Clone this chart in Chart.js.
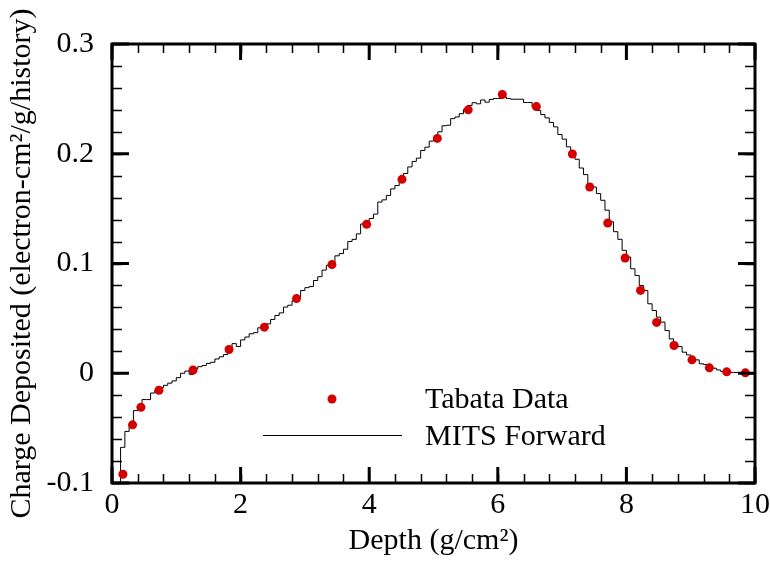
<!DOCTYPE html>
<html>
<head>
<meta charset="utf-8">
<script src="https://cdn.jsdelivr.net/npm/chart.js@4.4.1/dist/chart.umd.min.js"></script>
<style>
  html,body{margin:0;padding:0;background:#fff;}
  #wrap{width:770px;height:561px;position:relative;}
</style>
</head>
<body>
<div id="wrap"><canvas id="myChart" width="770" height="561"></canvas></div>
<script>
// Tabata measured points
const tabataDepth = [0.17,0.32,0.45,0.73,1.26,1.82,2.37,2.87,3.42,3.96,4.51,5.06,5.54,6.07,6.60,7.16,7.43,7.71,7.98,8.22,8.47,8.74,9.02,9.29,9.56,9.85];
const tabataCharge = [-0.092,-0.047,-0.031,-0.0155,0.003,0.0216,0.042,0.068,0.099,0.1357,0.1767,0.214,0.240,0.254,0.243,0.1998,0.1697,0.1369,0.105,0.0755,0.0463,0.0253,0.0122,0.0049,0.0013,0.0004];

// MITS Forward histogram, bins of 1/15 g/cm2 starting at depth 0
const mitsBinWidth = 1/15;
const mitsCharge = [
  -0.14,-0.12,-0.0675,-0.053,-0.046,-0.034,-0.031,-0.024,-0.024,-0.018,
  -0.0155,-0.013,-0.011,-0.009,-0.007,-0.004,0.000,0.002,-0.001,0.004,
  0.006,0.007,0.009,0.010,0.013,0.015,0.017,0.021,0.027,0.0244,
  0.0304,0.033,0.036,0.037,0.0414,0.044,0.045,0.049,0.0526,0.055,
  0.0603,0.062,0.066,0.069,0.0754,0.078,0.079,0.0845,0.088,0.094,
  0.0983,0.100,0.107,0.109,0.113,0.120,0.122,0.127,0.136,0.137,
  0.141,0.145,0.156,0.158,0.162,0.168,0.171,0.176,0.182,0.188,
  0.193,0.196,0.203,0.206,0.2115,0.214,0.220,0.2255,0.226,0.232,
  0.2335,0.2365,0.2405,0.244,0.2465,0.2455,0.249,0.247,0.2495,0.2504,
  0.2504,0.2518,0.2504,0.2497,0.2497,0.2497,0.2467,0.2467,0.2427,0.2395,
  0.2357,0.2327,0.2285,0.2245,0.2175,0.2133,0.2063,0.2002,0.1950,0.1870,
  0.181,0.1728,0.1697,0.1637,0.1576,0.1486,0.138,0.129,0.122,0.112,
  0.1059,0.0952,0.0891,0.0800,0.0754,0.0633,0.0572,0.0511,0.0466,0.0389,
  0.0313,0.0268,0.0243,0.0192,0.0167,0.014,0.0122,0.0086,0.0079,0.0061,
  0.0046,0.003,0.0015,0.0009,0.0008,0.0007,0.0006,0.0005,0.0005,0.0004
];

const xTicks = [0,2,4,6,8,10];
const yTicks = [-0.1,0,0.1,0.2,0.3];

const serif = "'Liberation Serif','Times New Roman',serif";

// step line points: left edge of every bin, plus closing point at right edge
const mitsPoints = mitsCharge.map((v,i)=>({x:i*mitsBinWidth,y:v}));
mitsPoints.push({x:mitsCharge.length*mitsBinWidth,y:mitsCharge[mitsCharge.length-1]});
const tabataPoints = tabataDepth.map((d,i)=>({x:d,y:tabataCharge[i]}));

// frame, inside ticks and legend
const framePlugin = {
  id:'frame',
  afterDatasetsDraw(chart){
    const ctx = chart.ctx;
    const a = chart.chartArea;
    const xs = chart.scales.x, ys = chart.scales.y;
    ctx.save();
    ctx.strokeStyle = '#000';
    // minor ticks
    ctx.lineWidth = 1.5;
    for(let v=0; v<=10.001; v+=0.4){
      const px = Math.round(xs.getPixelForValue(v))+0.5;
      ctx.beginPath();
      ctx.moveTo(px,a.bottom); ctx.lineTo(px,a.bottom-9);
      ctx.moveTo(px,a.top); ctx.lineTo(px,a.top+9);
      ctx.stroke();
    }
    for(let v=-0.1; v<=0.3001; v+=0.02){
      const py = Math.round(ys.getPixelForValue(v))+0.5;
      ctx.beginPath();
      ctx.moveTo(a.left,py); ctx.lineTo(a.left+10,py);
      ctx.moveTo(a.right,py); ctx.lineTo(a.right-10,py);
      ctx.stroke();
    }
    // major ticks
    ctx.lineWidth = 3;
    xTicks.forEach(v=>{
      const px = xs.getPixelForValue(v);
      ctx.beginPath();
      ctx.moveTo(px,a.bottom); ctx.lineTo(px,a.bottom-16);
      ctx.moveTo(px,a.top); ctx.lineTo(px,a.top+16);
      ctx.stroke();
    });
    yTicks.forEach(v=>{
      const py = ys.getPixelForValue(v);
      ctx.beginPath();
      ctx.moveTo(a.left,py); ctx.lineTo(a.left+17,py);
      ctx.moveTo(a.right,py); ctx.lineTo(a.right-17,py);
      ctx.stroke();
    });
    // box
    ctx.lineWidth = 3;
    ctx.strokeRect(a.left,a.top,a.right-a.left,a.bottom-a.top);

    // legend
    ctx.fillStyle = '#d40000';
    ctx.beginPath();
    ctx.arc(332,399,4.5,0,Math.PI*2);
    ctx.fill();
    ctx.lineWidth = 1;
    ctx.beginPath();
    ctx.moveTo(263,435.5); ctx.lineTo(402,435.5);
    ctx.stroke();
    ctx.fillStyle = '#000';
    ctx.font = "30px " + serif;
    ctx.textBaseline = 'alphabetic';
    ctx.textAlign = 'left';
    ctx.fillText('Tabata Data',425,408);
    ctx.fillText('MITS Forward',425,445);
    ctx.restore();
  }
};

const mychart = document.getElementById('myChart').getContext('2d');
const result = new Chart(mychart,{
  type:'scatter',
  data:{
    datasets:[
      {
        type:'line',
        label:'MITS Forward',
        data:mitsPoints,
        stepped:'before',
        borderColor:'#000',
        borderWidth:1,
        pointRadius:0,
        fill:false,
        order:2
      },
      {
        label:'Tabata Data',
        data:tabataPoints,
        pointRadius:4.5,
        pointBackgroundColor:'#d40000',
        pointBorderWidth:0,
        borderColor:'#d40000',
        order:1
      }
    ]
  },
  options:{
    responsive:false,
    animation:false,
    layout:{padding:{top:44,right:15,left:0,bottom:0}},
    plugins:{legend:{display:false},tooltip:{enabled:false}},
    scales:{
      x:{
        type:'linear',min:0,max:10,
        afterBuildTicks:s=>{s.ticks = xTicks.map(v=>({value:v}));},
        afterFit:s=>{s.height = 78;},
        grid:{display:false},
        border:{display:false},
        ticks:{color:'#000',font:{family:serif,size:30},padding:-4,maxRotation:0},
        title:{display:true,text:'Depth (g/cm²)',color:'#000',font:{family:serif,size:30},padding:{top:0,bottom:2}}
      },
      y:{
        min:-0.1,max:0.3,
        afterBuildTicks:s=>{s.ticks = yTicks.map(v=>({value:v}));},
        afterFit:s=>{s.width = 112;},
        grid:{display:false},
        border:{display:false},
        ticks:{color:'#000',font:{family:serif,size:30},padding:10,callback:v=>String(+v.toFixed(1))},
        title:{display:true,text:'Charge Deposited (electron-cm²/g/history)',color:'#000',font:{family:serif,size:30},padding:{top:4,bottom:0}}
      }
    }
  },
  plugins:[framePlugin]
});
</script>
</body>
</html>
